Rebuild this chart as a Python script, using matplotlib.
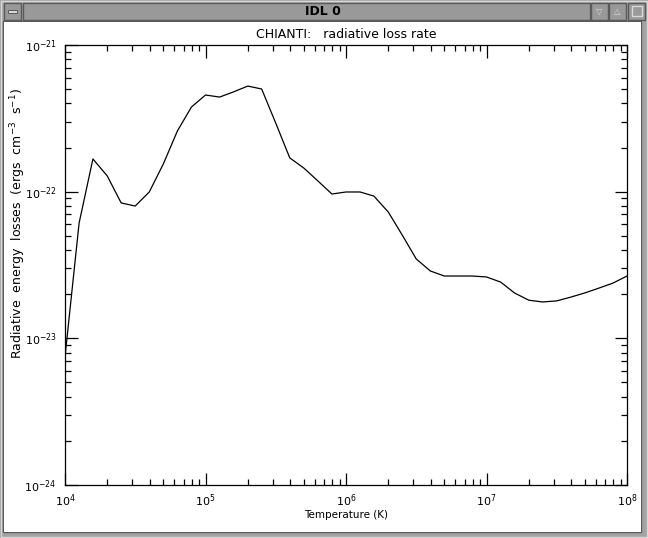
import numpy as np
import matplotlib.pyplot as plt
from matplotlib.patches import Rectangle
from matplotlib.ticker import LogLocator, FixedLocator, NullFormatter

# temperature grid (K) and radiative losses (units of 1e-22 erg cm^3 s^-1)
temperature = [1.00e4, 1.26e4, 1.58e4, 2.00e4, 2.51e4, 3.16e4, 3.98e4, 5.01e4,
               6.31e4, 7.94e4, 1.00e5, 1.26e5, 1.58e5, 2.00e5, 2.51e5, 3.16e5,
               3.98e5, 5.01e5, 6.31e5, 7.94e5, 1.00e6, 1.26e6, 1.58e6, 2.00e6,
               2.51e6, 3.16e6, 3.98e6, 5.01e6, 6.31e6, 7.94e6, 1.00e7, 1.26e7,
               1.58e7, 2.00e7, 2.51e7, 3.16e7, 3.98e7, 5.01e7, 6.31e7, 7.94e7,
               1.00e8]
loss_e22 = [0.0746, 0.611, 1.671, 1.279, 0.838, 0.798, 0.995, 1.545,
            2.594, 3.776, 4.560, 4.416, 4.786, 5.248, 5.012, 2.938,
            1.698, 1.449, 1.183, 0.964, 0.995, 0.995, 0.933, 0.726,
            0.507, 0.348, 0.288, 0.266, 0.266, 0.266, 0.262, 0.242,
            0.204, 0.182, 0.177, 0.180, 0.191, 0.204, 0.220, 0.238,
            0.266]
loss = [v * 1e-22 for v in loss_e22]

x_ticks = [1e4, 1e5, 1e6, 1e7, 1e8]
x_labels = [r'$10^{4}$', r'$10^{5}$', r'$10^{6}$', r'$10^{7}$', r'$10^{8}$']
y_ticks = [1e-24, 1e-23, 1e-22, 1e-21]
y_labels = [r'$10^{-24}$', r'$10^{-23}$', r'$10^{-22}$', r'$10^{-21}$']

W, H = 648, 538
fig = plt.figure(figsize=(W / 100, H / 100), dpi=100)
fig.patch.set_facecolor('#a3a3a3')

# window frame drawn in pixel coordinates
bg = fig.add_axes([0, 0, 1, 1])
bg.set_xlim(0, W)
bg.set_ylim(H, 0)
bg.axis('off')
frame_gray = '#a3a3a3'
dark = '#5a5a5a'
light = '#d8d8d8'
bg.add_patch(Rectangle((0, 0), W, H, fc=frame_gray, ec='none'))
bg.add_patch(Rectangle((1, 1), W - 2, H - 2, fc='none', ec=light, lw=1))
bg.add_patch(Rectangle((3, 21), W - 10, H - 27, fc='none', ec=dark, lw=1))
bg.add_patch(Rectangle((4, 22), 637, 510, fc='white', ec='none'))
# title bar and buttons
bg.add_patch(Rectangle((23, 3), 567, 17, fc='#999999', ec=dark, lw=1))
bg.add_patch(Rectangle((4, 3), 17, 17, fc='#999999', ec=dark, lw=1))
bg.add_patch(Rectangle((8, 10), 9, 3, fc=light, ec=dark, lw=0.7))
for bx in (591, 609, 628):
    bg.add_patch(Rectangle((bx, 3), 17, 17, fc='#999999', ec=dark, lw=1))
bg.add_patch(Rectangle((632, 6), 10, 10, fc='none', ec=light, lw=1))
bg.text(599.5, 11.5, '\u25bd', ha='center', va='center', fontsize=6, color='#dddddd')
bg.text(617.5, 11.5, '\u25b3', ha='center', va='center', fontsize=6, color='#dddddd')
bg.text(323, 11.5, 'IDL 0', ha='center', va='center', fontsize=9,
        fontweight='bold', color='black')

# plot area: x 65..627, y 45..485 in pixels
ax = fig.add_axes([65 / W, 1 - 485 / H, 562 / W, 440 / H])
ax.set_facecolor('white')
ax.plot(temperature, loss, color='black', lw=0.9)
ax.set_xscale('log')
ax.set_yscale('log')
ax.set_xlim(1e4, 1e8)
ax.set_ylim(1e-24, 1e-21)

ax.xaxis.set_major_locator(FixedLocator(x_ticks))
ax.set_xticklabels(x_labels)
ax.yaxis.set_major_locator(FixedLocator(y_ticks))
ax.set_yticklabels(y_labels)
ax.xaxis.set_minor_locator(LogLocator(base=10, subs=np.arange(2, 10)))
ax.yaxis.set_minor_locator(LogLocator(base=10, subs=np.arange(2, 10)))
ax.xaxis.set_minor_formatter(NullFormatter())
ax.yaxis.set_minor_formatter(NullFormatter())

ax.tick_params(which='both', direction='in', top=True, right=True,
               color='black', width=0.9, labelsize=8)
ax.tick_params(axis='x', pad=5)
ax.tick_params(axis='y', pad=6)
ax.tick_params(which='major', length=9)
ax.tick_params(which='minor', length=4.5)
for s in ax.spines.values():
    s.set_linewidth(0.9)

ax.set_title('CHIANTI:   radiative loss rate', fontsize=9, pad=5)
ax.set_xlabel('Temperature (K)', fontsize=7.5)
ax.xaxis.set_label_coords(0.5, -30 / 440)
ax.xaxis.label.set_va('center')
ax.set_ylabel(r'Radiative  energy  losses  (ergs  cm$^{-3}$  s$^{-1}$)', fontsize=9)
ax.yaxis.set_label_coords(-47 / 562, (485 - 223) / 440)
ax.yaxis.label.set_va('center')

fig.savefig('out.png', dpi=100, facecolor=fig.get_facecolor())
